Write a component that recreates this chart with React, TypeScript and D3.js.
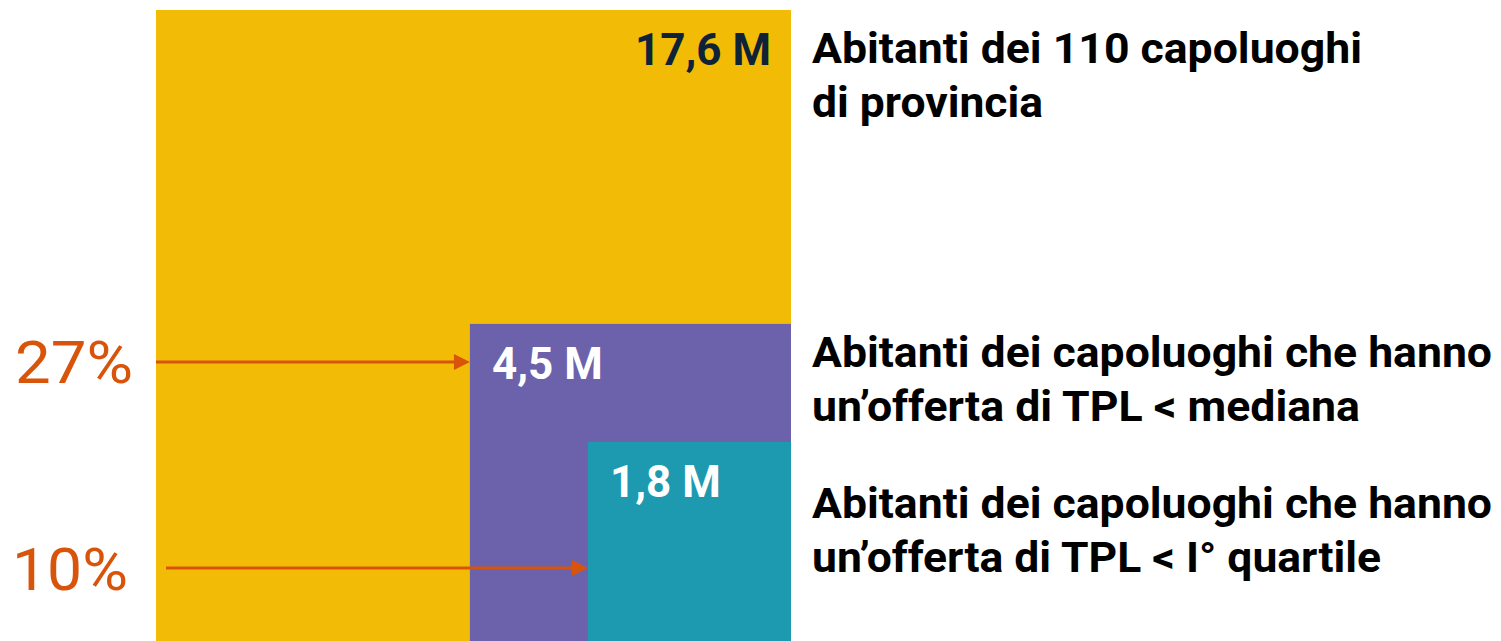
import React from "react";
import { scaleSqrt } from "d3";

// popolazione (milioni) dei tre gruppi di capoluoghi
const groups = ["tutti", "sotto_mediana", "sotto_quartile"];
const values = [17.6, 4.5, 1.8];
const valueLabels = ["17,6 M", "4,5 M", "1,8 M"];
const colors = ["#F1BB06", "#6C62AB", "#1E9AB0"];
const labelColors = ["#0E2238", "#FFFFFF", "#FFFFFF"];
const descriptions = [
  ["Abitanti dei 110 capoluoghi", "di provincia"],
  ["Abitanti dei capoluoghi che hanno", "un\u2019offerta di TPL < mediana"],
  ["Abitanti dei capoluoghi che hanno", "un\u2019offerta di TPL < I\u00b0 quartile"],
];
const descWidths = [
  [550, 231],
  [680, 548],
  [680, 569],
];
const shareLabels = ["27%", "10%"];

const W = 1501;
const H = 641;
const right = 791;
const bottom = 645;
const orange = "#D9540B";

const App = () => {
  const side = scaleSqrt().domain([0, values[0]]).range([0, 635]);
  const sq = values.map((v) => {
    const s = side(v);
    return { x: right - s, y: bottom - s, s };
  });

  // posizioni dei testi descrittivi (baseline prima riga)
  const descY = [63, 367, 518];
  const arrows = [
    { y: 362, x0: 156, x1: sq[1].x, ty: 383, tx: 15, tw: 118 },
    { y: 568, x0: 166, x1: sq[2].x, ty: 590, tx: 12, tw: 116 },
  ];

  return (
    <svg
      width={W}
      height={H}
      style={{ position: "absolute", left: 0, top: 0, display: "block" }}
    >
      <rect width={W} height={H} fill="#fff" />
      {sq.map((d, i) => (
        <rect key={groups[i]} x={d.x} y={d.y} width={d.s} height={d.s} fill={colors[i]} />
      ))}
      {sq.map((d, i) => (
        <text
          key={"v" + i}
          x={i === 0 ? d.x + d.s - 20 : d.x + 22}
          y={d.y + 55}
          textAnchor={i === 0 ? "end" : "start"}
          fontFamily="Roboto, sans-serif"
          fontWeight={700}
          fontSize={44}
          fill={labelColors[i]}
        >
          {valueLabels[i]}
        </text>
      ))}
      {descriptions.map((lines, i) => (
        <g key={"d" + i}>
          {lines.map((l, j) => (
            <text
              key={j}
              x={812}
              y={descY[i] + j * 54}
              fontFamily="Roboto, sans-serif"
              fontWeight={700}
              fontSize={42}
              fill="#000"
              textLength={descWidths[i][j]}
              lengthAdjust="spacingAndGlyphs"
            >
              {l}
            </text>
          ))}
        </g>
      ))}
      {arrows.map((a, i) => (
        <g key={"a" + i}>
          <line x1={a.x0} x2={a.x1 - 14} y1={a.y} y2={a.y} stroke={orange} strokeWidth={3} />
          <path d={`M${a.x1},${a.y} L${a.x1 - 16},${a.y - 8} L${a.x1 - 16},${a.y + 8} Z`} fill={orange} />
          <text
            x={a.tx}
            y={a.ty}
            fontFamily="Roboto, sans-serif"
            fontWeight={400}
            fontSize={59}
            fill={orange}
            textLength={a.tw}
            lengthAdjust="spacingAndGlyphs"
          >
            {shareLabels[i]}
          </text>
        </g>
      ))}
    </svg>
  );
};

export default App;
